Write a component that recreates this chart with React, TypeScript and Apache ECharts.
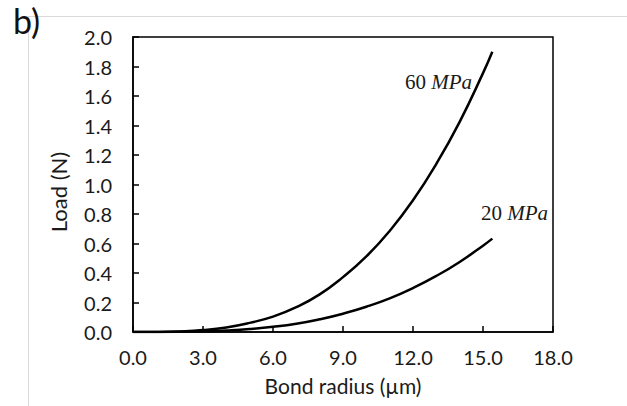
import React, { useEffect, useRef } from "react";
import * as echarts from "echarts";

const radius = [0, 1, 2, 3, 4, 5, 6, 7, 8, 9, 10, 11, 12, 13, 14, 15, 15.4];
const load60 = [0, 0.0005, 0.004, 0.013, 0.031, 0.062, 0.104, 0.168, 0.255, 0.372, 0.512, 0.685, 0.893, 1.14, 1.425, 1.755, 1.9];
const load20 = [0, 0.0002, 0.0013, 0.0045, 0.0105, 0.02, 0.035, 0.056, 0.086, 0.124, 0.171, 0.228, 0.298, 0.38, 0.475, 0.585, 0.633];
const seriesNames = ["60", "20"];

const FONT = "Lato";

export default function App() {
  const ref = useRef<HTMLDivElement>(null);
  useEffect(() => {
    if (!ref.current) return;
    const chart = echarts.init(ref.current, null, { renderer: "svg" });
    const mk = (ys: number[]) => radius.map((x, i) => [x, ys[i]]);
    const rich = {
      n: { fontFamily: "Liberation Serif", fontSize: 21, fill: "#1a1a1a" },
      u: { fontFamily: "Liberation Serif", fontSize: 21, fontStyle: "italic", fill: "#1a1a1a" },
    };
    chart.setOption({
      animation: false,
      backgroundColor: "#fff",
      grid: { left: 133, top: 37, width: 420, height: 295, show: true, borderColor: "#000", borderWidth: 1.5, backgroundColor: "transparent" },
      xAxis: {
        type: "value", min: 0, max: 18, interval: 3,
        name: "Bond radius (µm)", nameLocation: "middle", nameGap: 43,
        nameTextStyle: { fontFamily: FONT, fontSize: 21, color: "#1a1a1a" },
        axisLine: { lineStyle: { color: "#000", width: 1.5 } },
        axisTick: { inside: true, length: 6, lineStyle: { color: "#000", width: 1.5 } },
        axisLabel: { fontFamily: FONT, fontSize: 20, color: "#1a1a1a", margin: 15, formatter: (v: number) => v.toFixed(1) },
        splitLine: { show: false },
      },
      yAxis: {
        type: "value", min: 0, max: 2, interval: 0.2,
        axisLine: { show: true, lineStyle: { color: "#000", width: 1.5 } },
        axisTick: { show: true, inside: true, length: 6, lineStyle: { color: "#000", width: 1.5 } },
        axisLabel: { fontFamily: FONT, fontSize: 20, color: "#1a1a1a", margin: 21, formatter: (v: number) => v.toFixed(1) },
        splitLine: { show: false },
      },
      series: [
        { name: seriesNames[0], type: "line", data: mk(load60), smooth: true, showSymbol: false, lineStyle: { color: "#000", width: 2.5 } },
        { name: seriesNames[1], type: "line", data: mk(load20), smooth: true, showSymbol: false, lineStyle: { color: "#000", width: 2.5 } },
      ],
      graphic: [
        { type: "line", shape: { x1: 28, y1: 16.5, x2: 627, y2: 16.5 }, style: { stroke: "#d9d9d9", lineWidth: 1 } },
        { type: "line", shape: { x1: 28.5, y1: 16, x2: 28.5, y2: 406 }, style: { stroke: "#d9d9d9", lineWidth: 1 } },
        { type: "text", x: 13, y: 3, style: { text: "b)", font: `34px ${FONT}`, fill: "#111" } },
        {
          type: "text", x: 58, y: 192, rotation: Math.PI / 2,
          style: { text: "Load (N)", font: `22px ${FONT}`, fill: "#1a1a1a", align: "center", verticalAlign: "middle" },
        },
        { type: "text", x: 405, y: 82, style: { text: "{n|60 }{u|MPa}", rich, verticalAlign: "middle" } },
        { type: "text", x: 481, y: 213, style: { text: "{n|20 }{u|MPa}", rich, verticalAlign: "middle" } },
      ],
    });
    return () => chart.dispose();
  }, []);
  return <div ref={ref} style={{ position: "fixed", left: 0, top: 0, width: 627, height: 406 }} />;
}
